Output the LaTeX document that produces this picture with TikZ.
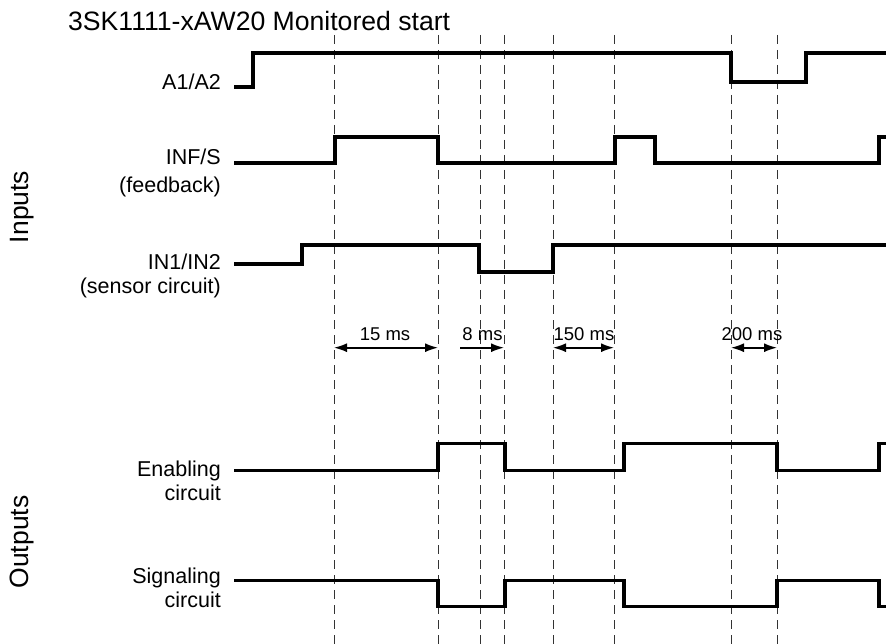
\documentclass[tikz,border=0pt]{standalone}
\usepackage{fontspec}
\setmainfont{Liberation Sans}
\usetikzlibrary{arrows.meta}
\begin{document}
\begin{tikzpicture}[x=1pt,y=-1pt,
  sig/.style={line width=3.8pt, line join=miter, line cap=butt},
  gridline/.style={line width=0.9pt, dash pattern=on 9pt off 6pt, draw=black!80},
  dimboth/.style={line width=1.6pt, {Latex[length=13pt,width=9pt]}-{Latex[length=13pt,width=9pt]}},
  dimone/.style={line width=1.6pt, -{Latex[length=13pt,width=9pt]}},
  lbl/.style={anchor=base east, inner sep=0pt, font=\fontsize{21.5}{25}\selectfont},
  dimlbl/.style={anchor=base, inner sep=0pt, font=\fontsize{18.5}{22}\selectfont},
  group/.style={rotate=90, inner sep=0pt, font=\fontsize{26.5}{30}\selectfont}
]
\useasboundingbox (0,0) rectangle (886,644);

% title
\node[anchor=base west, inner sep=0pt, font=\fontsize{26.6}{30}\selectfont] (title) at (68,31) {3SK1111-xAW20 Monitored start};

% group labels
\node[group] (inputs) at (22,207) {Inputs};
\node[group] (outputs) at (22,542) {Outputs};

% signal labels
\node[lbl] (lA) at (221,90) {A1/A2};
\node[lbl] (lF) at (221,165) {INF/S};
\node[lbl] (lFb) at (221,192.5) {(feedback)};
\node[lbl] (lI) at (221,270) {IN1/IN2};
\node[lbl] (lIb) at (221,293.5) {(sensor circuit)};
\node[lbl] (lE) at (221,476.5) {Enabling};
\node[lbl] (lEb) at (221,500) {circuit};
\node[lbl] (lS) at (221,583.3) {Signaling};
\node[lbl] (lSb) at (221,607.5) {circuit};

% dashed time markers
\foreach \n/\x in {1/334,2/438,3/480,4/504,5/553,6/614,7/731,8/777}{
  \coordinate (t\n) at (\x,35);
  \coordinate (b\n) at (\x,644);
  \coordinate (m\n) at (\x,347.7);
  \draw[gridline] (t\n) -- (b\n);
}
\coordinate (m0) at (460,347.7);

% waveforms
\draw[sig] (234,87) -- (253,87) -- (253,53) -- (731,53) -- (731,82) -- (806,82) -- (806,53) -- (886,53);
\draw[sig] (234,163) -- (335,163) -- (335,137) -- (438,137) -- (438,163) -- (615,163) -- (615,137) -- (655,137) -- (655,163) -- (879,163) -- (879,137) -- (886,137);
\draw[sig] (234,264) -- (302,264) -- (302,245) -- (479,245) -- (479,272) -- (553,272) -- (553,245) -- (886,245);
\draw[sig] (234,470.5) -- (438,470.5) -- (438,443.5) -- (505,443.5) -- (505,470.5) -- (624,470.5) -- (624,443.5) -- (777,443.5) -- (777,470.5) -- (879,470.5) -- (879,443.5) -- (886,443.5);
\draw[sig] (234,580.5) -- (438,580.5) -- (438,606.5) -- (505,606.5) -- (505,580.5) -- (624,580.5) -- (624,606.5) -- (777,606.5) -- (777,580.5) -- (879,580.5) -- (879,606.5) -- (886,606.5);

% time dimensions
\draw[dimboth] (m1) -- (m2);
\draw[dimone] (m0) -- (m4);
\draw[dimboth] (m5) -- (m6);
\draw[dimboth] (m7) -- (m8);
\node[dimlbl] (d15) at (385,340) {15 ms};
\node[dimlbl] (d8) at (482.5,340) {8 ms};
\node[dimlbl] (d150) at (584,340) {150 ms};
\node[dimlbl] (d200) at (752,340) {200 ms};
\end{tikzpicture}
\end{document}
